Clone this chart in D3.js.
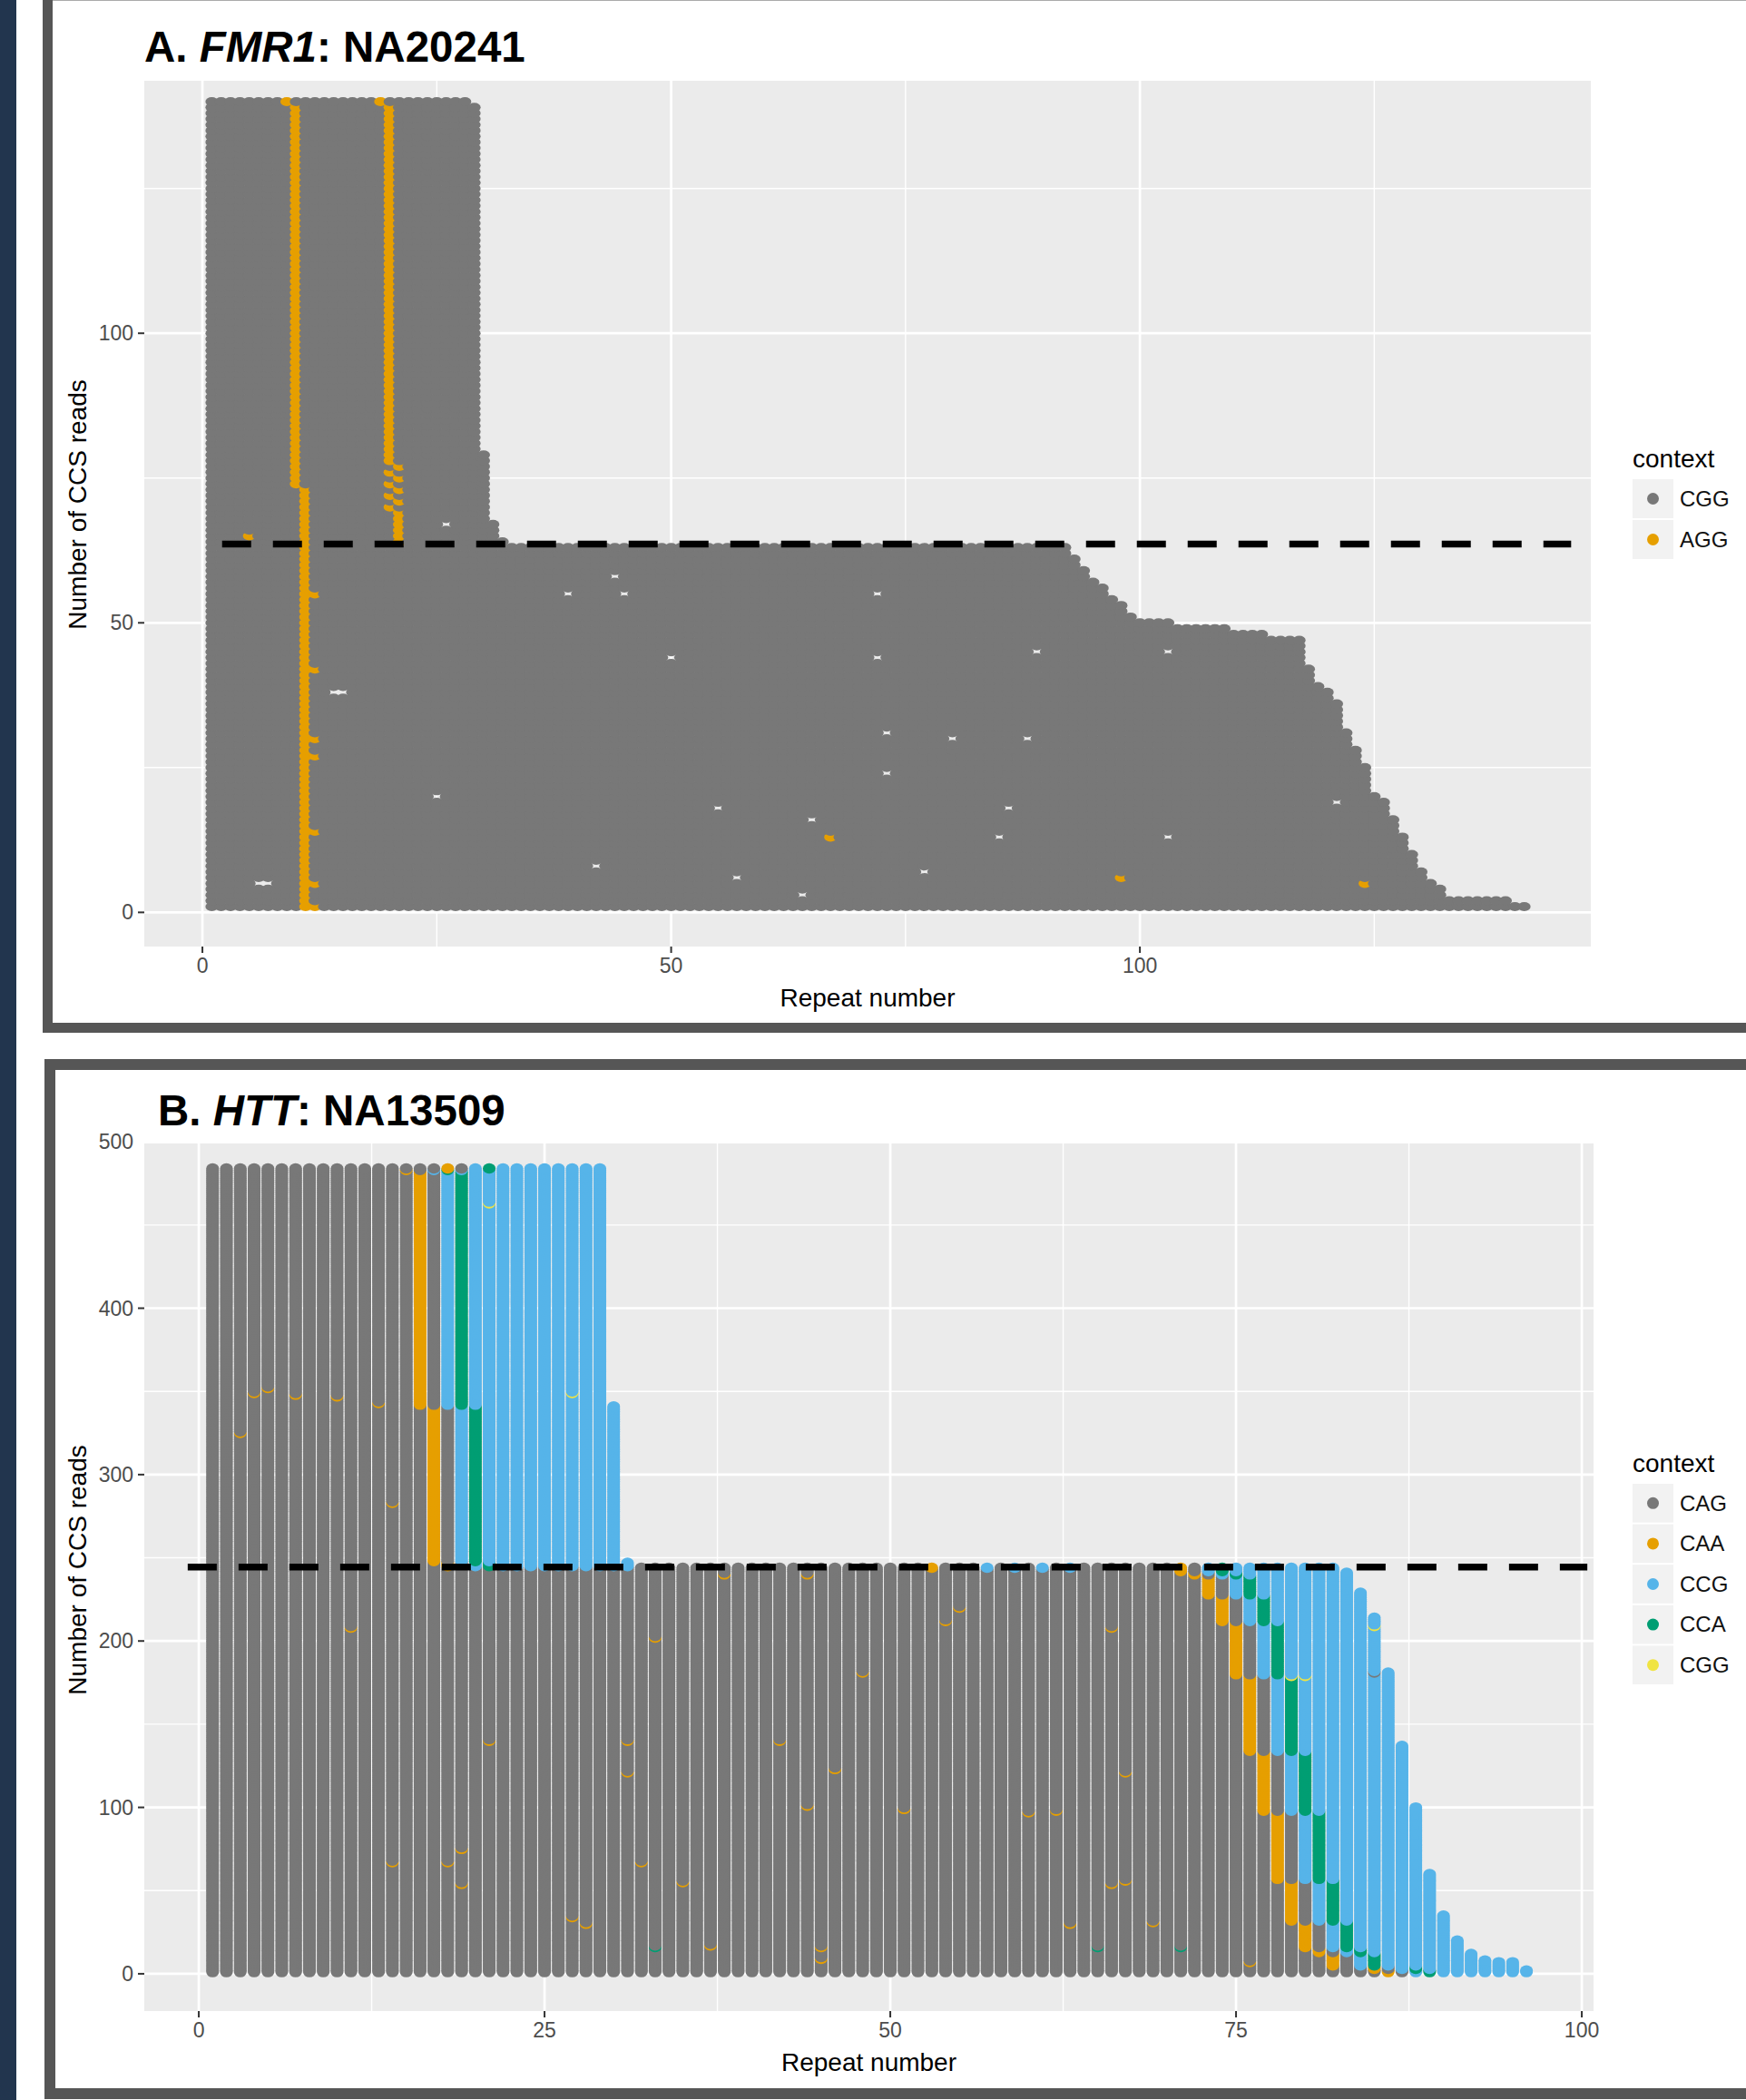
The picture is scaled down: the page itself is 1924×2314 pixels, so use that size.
<!DOCTYPE html>
<html lang="en">
<head>
  <meta charset="UTF-8">
  <title>CCS reads by repeat number</title>
  <style>
    body { margin: 0; background: #fff; }
    svg { display: block; font-family: "Liberation Sans", Arial, sans-serif; }
  </style>
</head>
<body>
  <script src="https://d3js.org/d3.v7.min.js"></script>
  <script>
    const W = 1924, H = 2314;

    // ---------- A. FMR1: NA20241 ----------
    // reads stacked by row: [first row, last row, repeat length]
    const readsA = [
      [1, 1, 141], [2, 2, 139], [3, 4, 132], [5, 5, 131], [6, 7, 130], [8, 10, 129],
      [11, 13, 128], [14, 16, 127], [17, 19, 126], [20, 20, 125], [21, 25, 124],
      [26, 28, 123], [29, 31, 122], [32, 36, 121], [37, 38, 120], [39, 39, 119],
      [40, 42, 118], [43, 47, 117], [48, 48, 113], [49, 49, 109], [50, 50, 103],
      [51, 51, 99], [52, 53, 98], [54, 54, 97], [55, 56, 96], [57, 57, 95],
      [58, 59, 94], [60, 61, 93], [62, 63, 92],
      [64, 64, 32], [65, 67, 31], [68, 79, 30], [80, 139, 29], [140, 140, 28]
    ];
    // AGG positions for each block of rows
    const aggA = [
      [1, 63, [11]], [64, 69, [11, 21]], [70, 70, [11, 20]], [71, 71, [11, 21]],
      [72, 72, [11, 20]], [73, 73, [11, 21]], [74, 74, [10, 20]], [75, 75, [10, 21]],
      [76, 76, [10, 20]], [77, 77, [10, 21]], [78, 139, [10, 20]], [140, 140, [9, 19]]
    ];
    // odd AGG calls [repeat, row]
    const extraAggA = [[5, 65], [12, 55], [12, 42], [12, 30], [12, 27], [12, 14], [12, 5], [12, 1],
      [67, 13], [98, 6], [124, 5]];
    // missing calls [repeat, row]
    const gapsA = [[26, 67], [44, 58], [39, 55], [45, 55], [72, 55], [50, 44], [72, 44], [89, 45],
      [103, 45], [14, 38], [15, 38], [73, 31], [80, 30], [88, 30], [85, 13], [25, 20], [6, 5], [7, 5],
      [55, 18], [65, 16], [86, 18], [73, 24], [42, 8], [57, 6], [64, 3], [77, 7], [103, 13], [121, 19]];
    const cutA = [2.1, 146, 63.6];
    const xTicksA = [0, 50, 100], yTicksA = [0, 50, 100];
    const contextsA = ['CGG', 'AGG'];
    const coloursA = ['#787878', '#E69F00'];

    // ---------- B. HTT: NA13509 ----------
    // [first row, last row, CAG count, repeat length]
    const readsB = [
      [1, 2, 85, 96], [3, 4, 84, 95], [5, 7, 81, 95], [8, 8, 81, 93], [9, 12, 81, 92],
      [13, 15, 80, 91], [16, 20, 79, 91], [21, 31, 79, 90], [32, 35, 78, 90], [36, 56, 78, 89],
      [57, 60, 77, 89], [61, 97, 77, 88], [98, 100, 76, 88], [101, 133, 76, 87],
      [134, 137, 75, 87], [138, 179, 75, 86], [180, 181, 74, 86], [182, 211, 74, 85],
      [212, 214, 73, 85], [215, 227, 73, 84], [228, 229, 72, 84], [230, 239, 72, 83],
      [240, 241, 71, 83], [242, 244, 70, 82],
      [245, 247, 17, 31], [248, 341, 16, 30], [342, 482, 15, 29], [483, 483, 14, 29], [484, 484, 17, 29]
    ];
    // codons that follow the CAG run, then CCG to the end
    const afterCAG = ['CAA', 'CAG', 'CCG', 'CCA'];
    // single off calls [repeat, row, context]
    const singlesB = [
      [4, 349, 'CAA'], [5, 352, 'CAA'], [3, 325, 'CAA'], [7, 348, 'CAA'], [10, 347, 'CAA'],
      [13, 343, 'CAA'], [11, 208, 'CAA'], [14, 283, 'CAA'], [33, 202, 'CAA'], [31, 140, 'CAA'],
      [21, 140, 'CAA'], [19, 75, 'CAA'], [14, 67, 'CAA'], [18, 67, 'CAA'], [19, 54, 'CAA'],
      [32, 67, 'CAA'], [35, 55, 'CAA'], [42, 140, 'CAA'], [44, 101, 'CAA'], [46, 123, 'CAA'],
      [48, 181, 'CAA'], [54, 212, 'CAA'], [55, 220, 'CAA'], [51, 99, 'CAA'], [60, 97, 'CAA'],
      [62, 98, 'CAA'], [66, 208, 'CAA'], [66, 54, 'CAA'], [67, 56, 'CAA'], [27, 34, 'CAA'],
      [28, 30, 'CAA'], [31, 121, 'CAA'], [63, 30, 'CAA'], [69, 31, 'CAA'], [76, 7, 'CAA'],
      [67, 121, 'CAA'], [37, 17, 'CAA'], [45, 16, 'CAA'], [45, 9, 'CAA'], [53, 244, 'CAA'],
      [38, 240, 'CAA'], [44, 240, 'CAA'], [33, 16, 'CCA'], [65, 16, 'CCA'], [71, 16, 'CCA'],
      [57, 244, 'CCG'], [59, 244, 'CCG'], [61, 244, 'CCG'], [63, 244, 'CCG'],
      [21, 463, 'CGG'], [27, 349, 'CGG'], [79, 179, 'CGG'], [80, 179, 'CGG'], [85, 209, 'CGG'],
      [85, 181, 'CAG']
    ];
    const cutB = [-0.8, 100.4, 244.4];
    const xTicksB = [0, 25, 50, 75, 100], yTicksB = [0, 100, 200, 300, 400, 500];
    const contextsB = ['CAG', 'CAA', 'CCG', 'CCA', 'CGG'];
    const coloursB = ['#787878', '#E69F00', '#56B4E9', '#009E73', '#F0E442'];

    // ---------- build dots ----------
    function buildA() {
      const agg = new Map();
      aggA.forEach(([r0, r1, pos]) => { for (let r = r0; r <= r1; r++) agg.set(r, pos); });
      const extra = new Set(extraAggA.map(d => d.join(',')));
      const gaps = new Set(gapsA.map(d => d.join(',')));
      const out = [];
      readsA.forEach(([r0, r1, len]) => {
        for (let r = r0; r <= r1; r++) {
          for (let x = 1; x <= len; x++) {
            const k = x + ',' + r;
            if (gaps.has(k)) continue;
            const isAgg = (agg.get(r) || []).includes(x) || extra.has(k);
            out.push({ x, y: r, ctx: isAgg ? 'AGG' : 'CGG' });
          }
        }
      });
      return out;
    }

    function buildB() {
      const odd = new Map(singlesB.map(d => [d[0] + ',' + d[1], d[2]]));
      const out = [];
      readsB.forEach(([r0, r1, n, len]) => {
        for (let r = r0; r <= r1; r++) {
          for (let x = 1; x <= len; x++) {
            let ctx = x <= n ? 'CAG' : (x <= n + afterCAG.length ? afterCAG[x - n - 1] : 'CCG');
            const k = x + ',' + r;
            if (odd.has(k)) ctx = odd.get(k);
            out.push({ x, y: r, ctx });
          }
        }
      });
      return out;
    }

    const svg = d3.select('body').append('svg')
      .attr('width', W).attr('height', H);

    svg.append('rect').attr('width', W).attr('height', H).attr('fill', '#fff');
    svg.append('rect').attr('width', 18).attr('height', H).attr('fill', '#22354e');

    function drawPanel(cfg) {
      const g = svg.append('g');

      // frame around the figure panel
      g.append('rect')
        .attr('x', cfg.frame[0]).attr('y', cfg.frame[1])
        .attr('width', cfg.frame[2]).attr('height', cfg.frame[3])
        .attr('fill', 'none').attr('stroke', '#565656').attr('stroke-width', cfg.frame[4]);

      // title with italic gene name
      const t = g.append('text')
        .attr('x', cfg.titleX).attr('y', cfg.titleY)
        .attr('font-size', 47.5).attr('font-weight', 'bold').attr('fill', '#000');
      t.append('tspan').text(cfg.title[0]);
      t.append('tspan').attr('font-style', 'italic').text(cfg.title[1]);
      t.append('tspan').text(cfg.title[2]);

      const x = d3.scaleLinear().domain(cfg.xDomain).range([cfg.box[0], cfg.box[2]]);
      const y = d3.scaleLinear().domain(cfg.yDomain).range([cfg.box[3], cfg.box[1]]);

      g.append('rect')
        .attr('x', cfg.box[0]).attr('y', cfg.box[1])
        .attr('width', cfg.box[2] - cfg.box[0]).attr('height', cfg.box[3] - cfg.box[1])
        .attr('fill', '#EBEBEB');

      const mids = ticks => ticks.slice(0, -1).map((v, i) => (v + ticks[i + 1]) / 2)
        .concat([ticks[ticks.length - 1] + (ticks[1] - ticks[0]) / 2]);
      const inX = v => v >= cfg.xDomain[0] && v <= cfg.xDomain[1];
      const inY = v => v >= cfg.yDomain[0] && v <= cfg.yDomain[1];

      const grid = g.append('g').attr('stroke', '#fff');
      [[mids(cfg.xTicks), 1.4], [cfg.xTicks, 2.7]].forEach(([vals, w]) => {
        grid.selectAll(null).data(vals.filter(inX)).enter().append('line')
          .attr('x1', d => x(d)).attr('x2', d => x(d))
          .attr('y1', cfg.box[1]).attr('y2', cfg.box[3]).attr('stroke-width', w);
      });
      [[mids(cfg.yTicks), 1.4], [cfg.yTicks, 2.7]].forEach(([vals, w]) => {
        grid.selectAll(null).data(vals.filter(inY)).enter().append('line')
          .attr('y1', d => y(d)).attr('y2', d => y(d))
          .attr('x1', cfg.box[0]).attr('x2', cfg.box[2]).attr('stroke-width', w);
      });

      const colour = d3.scaleOrdinal().domain(cfg.contexts).range(cfg.colours);

      g.append('g').selectAll('ellipse')
        .data(cfg.dots)
        .enter().append('ellipse')
        .attr('cx', d => x(d.x)).attr('cy', d => y(d.y))
        .attr('rx', cfg.rx).attr('ry', cfg.ry)
        .attr('fill', d => colour(d.ctx));

      // allele split
      g.append('line')
        .attr('x1', x(cfg.cut[0])).attr('x2', x(cfg.cut[1]))
        .attr('y1', y(cfg.cut[2])).attr('y2', y(cfg.cut[2]))
        .attr('stroke', '#000').attr('stroke-width', 7.5).attr('stroke-dasharray', '32 24');

      // axes
      const ax = g.append('g').attr('fill', '#4D4D4D').attr('font-size', 23);
      ax.selectAll(null).data(cfg.xTicks).enter().append('line')
        .attr('x1', d => x(d)).attr('x2', d => x(d))
        .attr('y1', cfg.box[3]).attr('y2', cfg.box[3] + 7)
        .attr('stroke', '#333').attr('stroke-width', 2);
      ax.selectAll(null).data(cfg.xTicks).enter().append('text')
        .attr('x', d => x(d)).attr('y', cfg.box[3] + 29)
        .attr('text-anchor', 'middle').text(d => d);
      ax.selectAll(null).data(cfg.yTicks.filter(inY)).enter().append('line')
        .attr('y1', d => y(d)).attr('y2', d => y(d))
        .attr('x1', cfg.box[0] - 7).attr('x2', cfg.box[0])
        .attr('stroke', '#333').attr('stroke-width', 2);
      ax.selectAll(null).data(cfg.yTicks).enter().append('text')
        .attr('x', cfg.box[0] - 12).attr('y', d => y(d))
        .attr('dy', '0.35em').attr('text-anchor', 'end').text(d => d);

      g.append('text')
        .attr('x', (cfg.box[0] + cfg.box[2]) / 2).attr('y', cfg.box[3] + 66)
        .attr('text-anchor', 'middle').attr('font-size', 28).text('Repeat number');
      g.append('text')
        .attr('transform', `translate(95,${cfg.yTitleY}) rotate(-90)`)
        .attr('text-anchor', 'middle').attr('font-size', 28).text('Number of CCS reads');

      // legend
      const lg = g.append('g').attr('transform', `translate(1799,${cfg.legendY})`);
      lg.append('text').attr('y', 0).attr('font-size', 28).text('context');
      const key = lg.selectAll('g.key').data(cfg.contexts).enter().append('g')
        .attr('class', 'key')
        .attr('transform', (d, i) => `translate(0,${13 + i * cfg.keyStep})`);
      key.append('rect').attr('width', 45).attr('height', cfg.keyStep - 2).attr('fill', '#F2F2F2');
      key.append('circle').attr('cx', 22.5).attr('cy', (cfg.keyStep - 2) / 2)
        .attr('r', 6.5).attr('fill', d => colour(d));
      key.append('text').attr('x', 52).attr('y', (cfg.keyStep - 2) / 2)
        .attr('dy', '0.35em').attr('font-size', 24).attr('fill', '#111').text(d => d);
    }

    drawPanel({
      frame: [52.5, -5, 1924, 1137.5, 11],
      title: ['A. ', 'FMR1', ': NA20241'], titleX: 159, titleY: 68,
      box: [159, 89, 1753, 1043],
      xDomain: [-6.2, 148.1], yDomain: [-5.9, 143.6],
      xTicks: xTicksA, yTicks: yTicksA,
      dots: buildA(), rx: 7, ry: 5,
      contexts: contextsA, colours: coloursA,
      cut: cutA, yTitleY: 556, legendY: 515, keyStep: 45
    });

    drawPanel({
      frame: [55, 1173, 1924, 1134, 12],
      title: ['B. ', 'HTT', ': NA13509'], titleX: 174, titleY: 1240,
      box: [159, 1260, 1756, 2216],
      xDomain: [-3.94, 100.85], yDomain: [-22.4, 499],
      xTicks: xTicksB, yTicks: yTicksB,
      dots: buildB(), rx: 7, ry: 5.7,
      contexts: contextsB, colours: coloursB,
      cut: cutB, yTitleY: 1730, legendY: 1622, keyStep: 44.6
    });
  </script>
</body>
</html>
